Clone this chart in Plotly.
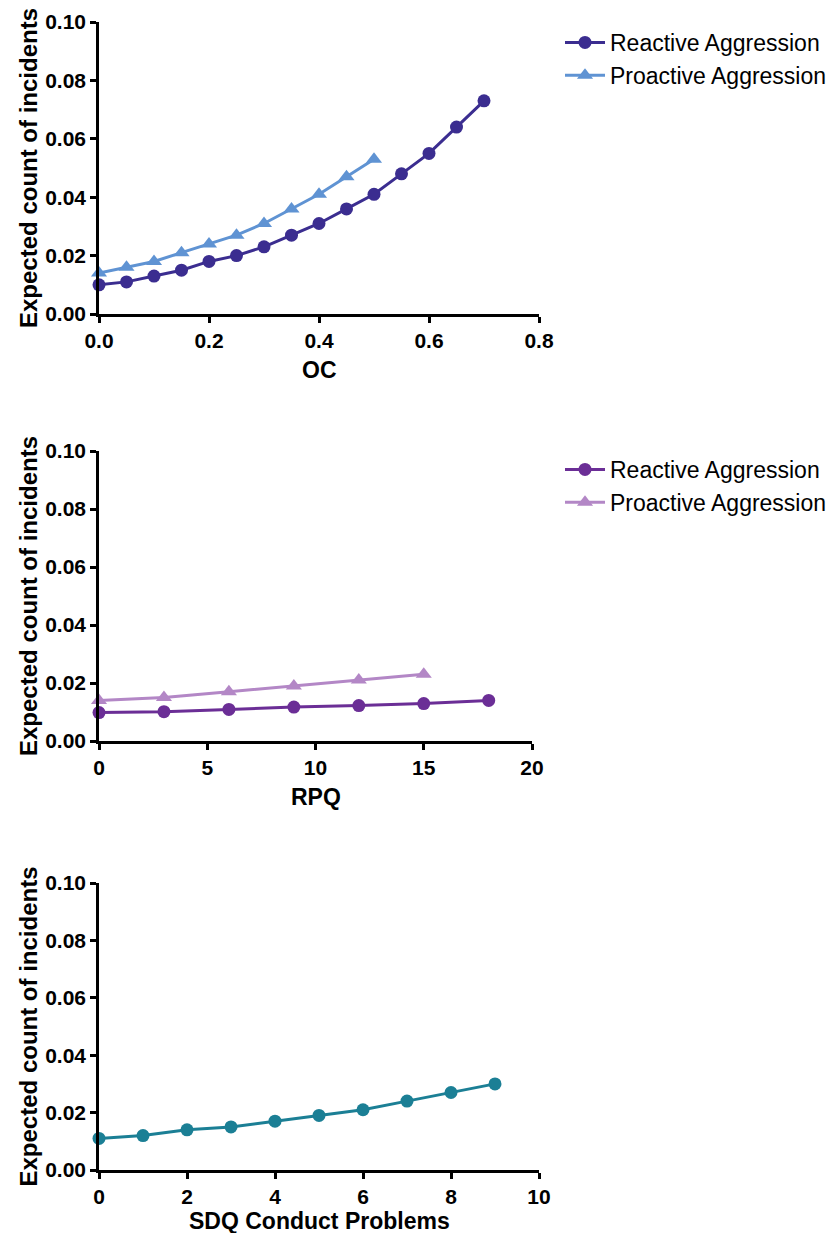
import plotly.graph_objects as go

W, H = 838, 1233
PAGE_OFFSET = 8  # default body margin of the html page

# ---- data ----
oc_x_react = [0.0, 0.05, 0.10, 0.15, 0.20, 0.25, 0.30, 0.35, 0.40, 0.45, 0.50, 0.55, 0.60, 0.65, 0.70]
oc_y_react = [0.010, 0.011, 0.013, 0.015, 0.018, 0.020, 0.023, 0.027, 0.031, 0.036, 0.041, 0.048, 0.055, 0.064, 0.073]
oc_x_pro = [0.0, 0.05, 0.10, 0.15, 0.20, 0.25, 0.30, 0.35, 0.40, 0.45, 0.50]
oc_y_pro = [0.014, 0.016, 0.018, 0.021, 0.024, 0.027, 0.031, 0.036, 0.041, 0.047, 0.053]

rpq_x_react = [0, 3, 6, 9, 12, 15, 18]
rpq_y_react = [0.0098, 0.0101, 0.0109, 0.0117, 0.0122, 0.0129, 0.0140]
rpq_x_pro = [0, 3, 6, 9, 12, 15]
rpq_y_pro = [0.014, 0.015, 0.017, 0.019, 0.021, 0.023]

sdq_x = [0, 1, 2, 3, 4, 5, 6, 7, 8, 9]
sdq_y = [0.011, 0.012, 0.014, 0.015, 0.017, 0.019, 0.021, 0.024, 0.027, 0.030]

y_ticks = [0.00, 0.02, 0.04, 0.06, 0.08, 0.10]
y_ticklabels = ["0.00", "0.02", "0.04", "0.06", "0.08", "0.10"]
oc_ticks = [0.0, 0.2, 0.4, 0.6, 0.8]
oc_ticklabels = ["0.0", "0.2", "0.4", "0.6", "0.8"]
rpq_ticks = [0, 5, 10, 15, 20]
sdq_ticks = [0, 2, 4, 6, 8, 10]

y_title = "Expected count of incidents"

# ---- colours ----
c_oc_react = "#3b2d90"
c_oc_pro = "#5f93d3"
c_rpq_react = "#6b2e96"
c_rpq_pro = "#b387c6"
c_sdq = "#1b7f95"

FONT = "Liberation Sans, Arial, sans-serif"

def px_x(p):
    return (p - PAGE_OFFSET) / W

def px_y(p):
    return 1 - (p - PAGE_OFFSET) / H

fig = go.Figure()

def line(x, y, color, symbol, name, xa, ya, legend=None, show=True):
    fig.add_trace(go.Scatter(
        x=x, y=y, mode="lines+markers", name=name,
        line=dict(color=color, width=3),
        marker=dict(color=color, symbol=symbol, size=13 if symbol == "circle" else 14),
        xaxis=xa, yaxis=ya, cliponaxis=False,
        legend=legend, showlegend=show,
    ))

line(oc_x_react, oc_y_react, c_oc_react, "circle", "Reactive Aggression", "x", "y", "legend")
line(oc_x_pro, oc_y_pro, c_oc_pro, "triangle-up", "Proactive Aggression", "x", "y", "legend")
line(rpq_x_react, rpq_y_react, c_rpq_react, "circle", "Reactive Aggression", "x2", "y2", "legend2")
line(rpq_x_pro, rpq_y_pro, c_rpq_pro, "triangle-up", "Proactive Aggression", "x2", "y2", "legend2")
line(sdq_x, sdq_y, c_sdq, "circle", "SDQ", "x3", "y3", show=False)

axis_common = dict(
    showline=True, linecolor="black", linewidth=2.5,
    ticks="outside", ticklen=6, tickwidth=2.5, tickcolor="black",
    showgrid=False, zeroline=False, automargin=False,
    tickfont=dict(family=FONT, size=21, color="black", weight="bold"),
)

panels = [
    ("xaxis", "yaxis", 99, 539, 22, 314, [0, 0.8], oc_ticks, oc_ticklabels, "OC", 370),
    ("xaxis2", "yaxis2", 99, 532, 451, 741, [0, 20], rpq_ticks, [str(t) for t in rpq_ticks], "RPQ", 797),
    ("xaxis3", "yaxis3", 99, 539, 883, 1170, [0, 10], sdq_ticks, [str(t) for t in sdq_ticks], "SDQ Conduct Problems", 1221),
]

layout = dict(
    width=W, height=H, margin=dict(l=0, r=0, t=0, b=0),
    paper_bgcolor="white", plot_bgcolor="white",
    font=dict(family=FONT, color="black"),
)
annotations = []
for i, (xa, ya, xl, xr, yt, yb, xr_, xt, xlab, xtitle, ty) in enumerate(panels):
    anchor_x = "y" if i == 0 else f"y{i+1}"
    anchor_y = "x" if i == 0 else f"x{i+1}"
    layout[xa] = dict(axis_common, domain=[px_x(xl), px_x(xr)], range=xr_,
                      tickvals=xt, ticktext=xlab, anchor=anchor_x)
    layout[ya] = dict(axis_common, domain=[px_y(yb), px_y(yt)], range=[0, 0.1],
                      tickvals=y_ticks, ticktext=y_ticklabels, anchor=anchor_y)
    annotations.append(dict(
        text=f"<b>{xtitle}</b>", xref="paper", yref="paper",
        x=px_x((xl + xr) / 2), y=px_y(ty),
        xanchor="center", yanchor="middle", showarrow=False,
        font=dict(family=FONT, size=23, color="black"),
    ))
    annotations.append(dict(
        text=f"<b>{y_title}</b>", xref="paper", yref="paper",
        x=px_x(28), y=px_y((yt + yb) / 2), textangle=-90,
        xanchor="center", yanchor="middle", showarrow=False,
        font=dict(family=FONT, size=24, color="black"),
    ))

legend_style = dict(
    xanchor="left", yanchor="top", bgcolor="rgba(0,0,0,0)",
    font=dict(family=FONT, size=23, color="black"),
    tracegroupgap=0, itemwidth=40,
)
layout["legend"] = dict(legend_style, x=px_x(560), y=px_y(21))
layout["legend2"] = dict(legend_style, x=px_x(560), y=px_y(448))
layout["annotations"] = annotations

fig.update_layout(**layout)
fig.write_html("out.html")
